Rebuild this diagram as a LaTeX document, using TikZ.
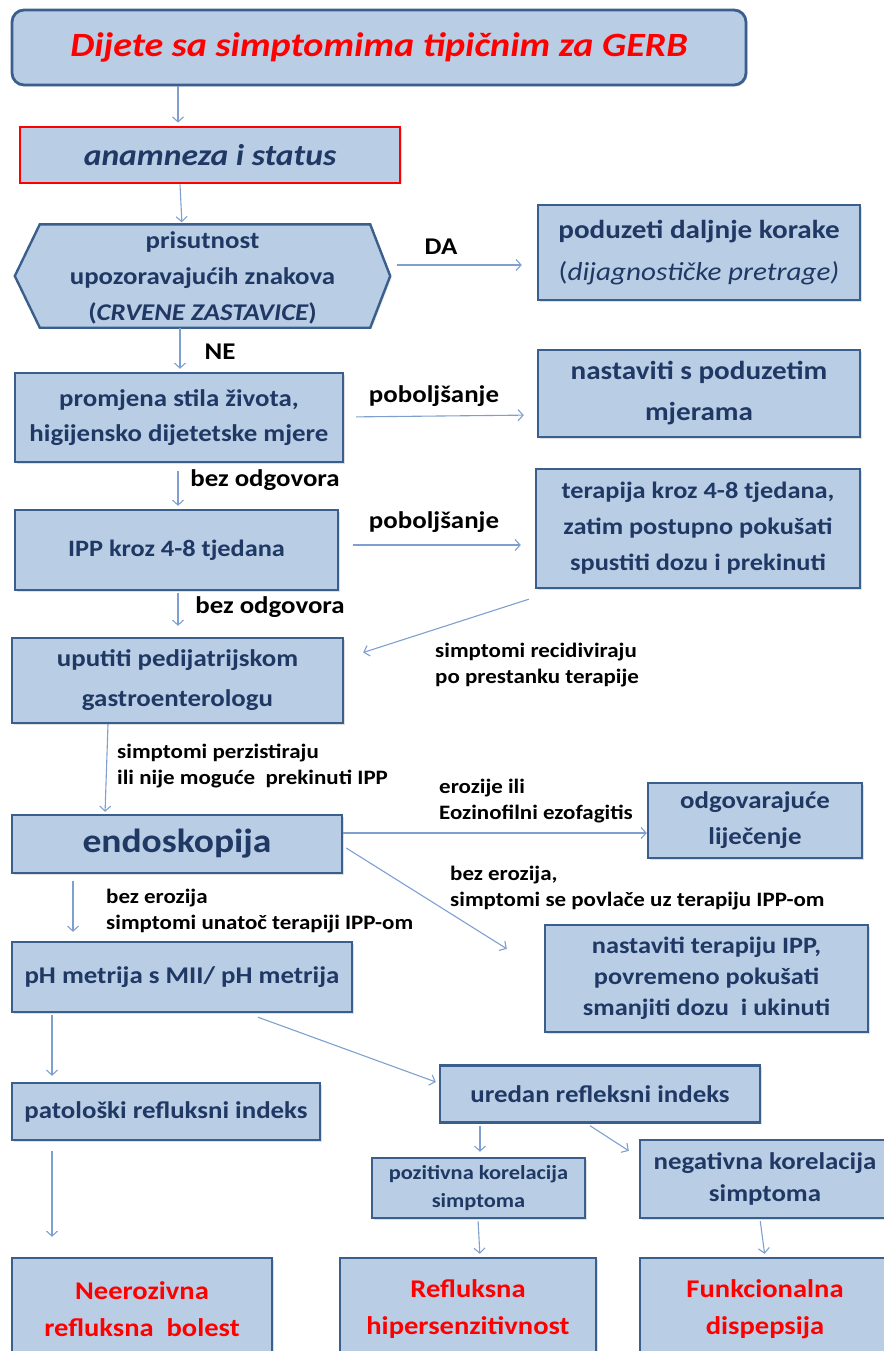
\documentclass[tikz,border=0pt]{standalone}
\usepackage{fontspec}
\setmainfont{Carlito}[FakeStretch=1.12]
\usetikzlibrary{arrows.meta,calc,shadows}
\definecolor{boxfill}{HTML}{B9CDE5}
\definecolor{boxline}{HTML}{3A5F8C}
\definecolor{boxtext}{HTML}{1F3864}
\definecolor{arrline}{HTML}{7FA0CF}
\definecolor{redtext}{HTML}{FF0000}
\newcommand{\fs}[2]{\fontsize{#1}{#2}\selectfont}
\tikzset{
  box/.style={draw=boxline, line width=2.4pt, fill=boxfill, text=boxtext,
    font=\bfseries\fs{24}{35}, align=center, inner sep=0pt,
    drop shadow={opacity=0.25, shadow xshift=1.5pt, shadow yshift=-1.5pt}},
  arr/.style={draw=arrline, line width=1.1pt, -{Straight Barb[length=5pt,width=11pt]}},
  lab/.style={font=\bfseries\fs{24}{28}, text=black, inner sep=0pt},
  slab/.style={font=\bfseries\fs{20.5}{26.5}, text=black, inner sep=0pt, align=left, anchor=west},
  redt/.style={text=redtext, font=\bfseries\fs{25.5}{37}}
}
\begin{document}
\begin{tikzpicture}[x=1pt,y=-1pt]
\useasboundingbox (0,0) rectangle (883,1351);
% nodes
\node[box, rounded corners=12pt, line width=2.8pt, minimum width=734, minimum height=75, text=redtext, font=\bfseries\itshape\fs{34}{40}] (title) at (379,47.5) {Dijete sa simptomima tipičnim za GERB};
\node[box, draw=redtext, line width=2.8pt, minimum width=380, minimum height=56, font=\bfseries\itshape\fs{30}{34}] (anam) at (210,155) {anamneza i status};
\node[minimum width=375, minimum height=103, inner sep=0pt] (hex) at (202.5,276) {};
\path[box] ($(hex.north west)+(25,0)$) -- ($(hex.north east)+(-20,0)$) -- (hex.east) -- ($(hex.south east)+(-20,0)$) -- ($(hex.south west)+(25,0)$) -- (hex.west) -- cycle;
\node[text=boxtext, font=\bfseries\fs{24}{36}, align=center, inner sep=0pt] (hextext) at ($(hex.center)+(0,2)$) {prisutnost\\upozoravajućih znakova\\({\itshape CRVENE ZASTAVICE})};
\node[box, minimum width=322, minimum height=95, font=\bfseries\fs{26}{42}] (pod) at (699,252.5) {poduzeti daljnje korake\\{\mdseries(\itshape dijagnostičke pretrage\/)}};
\node[box, minimum width=328, minimum height=89] (prom) at (179,417.5) {promjena stila života,\\higijensko dijetetske mjere};
\node[box, minimum width=322, minimum height=87, font=\bfseries\fs{26}{41}] (nast) at (699,393.5) {nastaviti s poduzetim\\mjerama};
\node[box, minimum width=323, minimum height=80, font=\bfseries\fs{23.5}{30}] (ipp) at (176.5,550) {IPP kroz 4-8 tjedana};
\node[box, minimum width=324, minimum height=119, font=\bfseries\fs{23.5}{36}] (ter) at (698,528.5) {terapija kroz 4-8 tjedana,\\zatim postupno pokušati\\spustiti dozu i prekinuti};
\node[box, minimum width=331, minimum height=85, font=\bfseries\fs{24}{40}] (upu) at (177.5,680.5) {uputiti pedijatrijskom\\gastroenterologu};
\node[box, minimum width=330, minimum height=58, font=\bfseries\fs{33.5}{40}] (endo) at (177,844) {endoskopija};
\node[box, minimum width=214, minimum height=75, font=\bfseries\fs{24}{36}] (odg) at (755,820.5) {odgovarajuće\\liječenje};
\node[box, minimum width=323, minimum height=107, font=\bfseries\fs{23.5}{31}] (nast2) at (706.5,978.5) {nastaviti terapiju IPP,\\povremeno pokušati\\smanjiti dozu\ \ i ukinuti};
\node[box, minimum width=340, minimum height=70, font=\bfseries\fs{24}{30}] (ph) at (182,977) {pH metrija s MII/ pH metrija};
\node[box, minimum width=308, minimum height=57] (pato) at (166,1111.5) {patološki refluksni indeks};
\node[box, minimum width=320, minimum height=57] (ured) at (600,1094) {uredan refleksni indeks};
\node[box, minimum width=213, minimum height=60, font=\bfseries\fs{20}{28}] (poz) at (478.5,1188) {pozitivna korelacija\\simptoma};
\node[box, minimum width=250, minimum height=78, font=\bfseries\fs{24}{32}] (neg) at (765,1179) {negativna korelacija\\simptoma};
\node[box, minimum width=260, minimum height=102, redt] (neer) at (142,1309) {Neerozivna\\refluksna\ \ bolest};
\node[box, minimum width=256, minimum height=102, redt] (refl) at (468,1309) {Refluksna\\hipersenzitivnost};
\node[box, minimum width=250, minimum height=102, redt] (funk) at (765,1309) {Funkcionalna\\dispepsija};
% connectors
\draw[arr, shorten >=3pt] (title.south -| 178,0) -- (anam.north -| 178,0);
\draw[arr, shorten >=2pt] (anam.south -| 180,0) -- (hex.north -| 182,0);
\draw[arr, shorten <=7pt, shorten >=15pt] (hex.east |- 0,265) -- (pod.west |- 0,265);
\node[lab] (lDA) at (441,247) {DA};
\draw[arr, shorten >=3pt] (hex.south -| 180,0) -- (prom.north -| 180,0);
\node[lab] (lNE) at (220,352) {NE};
\draw[arr, shorten <=12pt, shorten >=13pt] (prom.east |- 0,417) -- (nast.west |- 0,415);
\node[lab] (lpob1) at (434,396) {poboljšanje};
\draw[arr, shorten <=8pt, shorten >=3pt] (prom.south -| 178,0) -- (ipp.north -| 178,0);
\node[lab] (lbez1) at (265,480) {bez odgovora};
\draw[arr, shorten <=14pt, shorten >=14pt] (ipp.east |- 0,545) -- (ter.west |- 0,545);
\node[lab] (lpob2) at (434,522) {poboljšanje};
\draw[arr, shorten <=2pt, shorten >=11pt] (ipp.south -| 178,0) -- (upu.north -| 178,0);
\node[lab] (lbez2) at (270,607) {bez odgovora};
\draw[arr] ($(ter.south west)+(-6,10)$) coordinate (tstart) -- ($(upu.east)+(19,-28)$) coordinate (uend);
\node[slab] (lrec) at (435,665) {simptomi recidiviraju\\po prestanku terapije};
\draw[arr, shorten >=2pt] (upu.south -| 108,0) -- (endo.north -| 105,0);
\node[slab] (lper) at (117,766) {simptomi perzistiraju\\ili nije moguće\ \ prekinuti IPP};
\draw[arr] (endo.east |- 0,833) -- (odg.west |- 0,833);
\node[slab] (lero) at (439,801) {erozije ili\\Eozinofilni ezofagitis};
\draw[arr] ($(endo.east)+(3,4)$) -- ($(nast2.north west)+(-37,25)$);
\node[slab] (lbe1) at (450,888) {bez erozija,\\simptomi se povlače uz terapiju IPP-om};
\draw[arr, shorten <=7pt, shorten >=9pt] (endo.south -| 73,0) -- (ph.north -| 73,0);
\node[slab] (lbe2) at (106,911) {bez erozija\\simptomi unatoč terapiji IPP-om};
\draw[arr, shorten <=2pt, shorten >=6pt] (ph.south -| 52,0) -- (pato.north -| 52,0);
\draw[arr] ($(ph.south)+(76,4)$) -- ($(ured.west)+(-3,-12)$);
\draw[arr, shorten <=10pt, shorten >=20pt] (pato.south -| 52,0) -- (neer.north -| 52,0);
\draw[arr, shorten <=2pt, shorten >=5pt] (ured.south -| 480,0) -- (poz.north -| 480,0);
\draw[arr] ($(ured.south)+(-10,2)$) -- ($(neg.north west)+(-10,12)$);
\draw[arr, shorten <=2pt, shorten >=3pt] (poz.south -| 478,0) -- (refl.north -| 480,0);
\draw[arr, shorten <=2pt, shorten >=3pt] (neg.south -| 760,0) -- (funk.north -| 765,0);
\end{tikzpicture}
\end{document}
